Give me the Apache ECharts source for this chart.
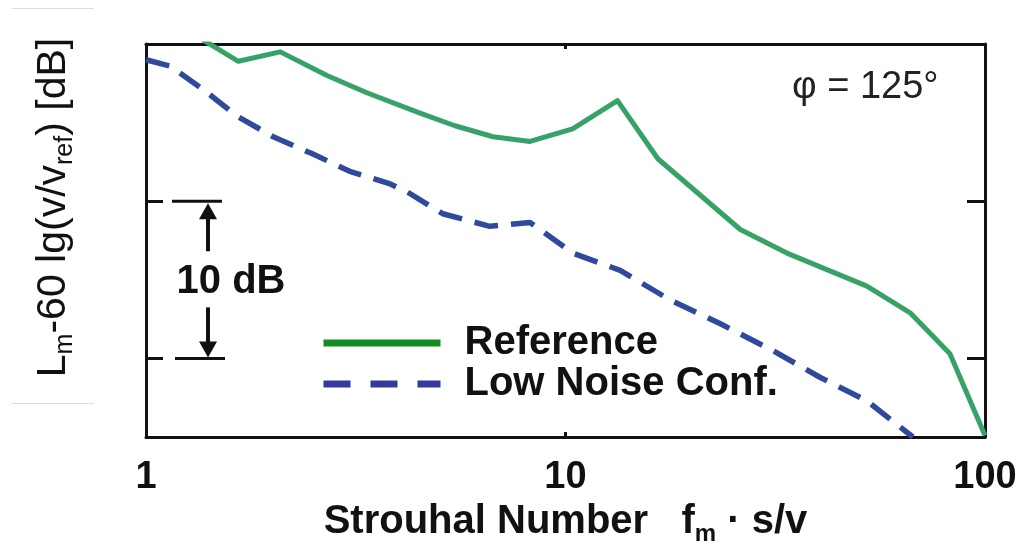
<!DOCTYPE html>
<html>
<head>
<meta charset="utf-8">
<script src="https://cdn.jsdelivr.net/npm/echarts@6/dist/echarts.min.js"></script>
<style>
html,body{margin:0;padding:0;background:#fff;}
#c{width:1023px;height:546px;}
</style>
</head>
<body>
<div id="c"></div>
<script>
// ---- data ----
var freqRef  = [1.36, 1.66, 2.09, 2.70, 3.36, 4.50, 5.45, 6.72, 8.23, 10.4, 13.3, 16.6, 26.1, 33.7, 52.3, 66.3, 82.5, 100];
var levelRef = [20.3, 18.9, 19.5, 18.0, 16.9, 15.6, 14.8, 14.1, 13.8, 14.6, 16.4, 12.7, 8.2, 6.7, 4.6, 2.9, 0.3, -4.9];

var freqLow  = [1.0, 1.14, 1.37, 1.65, 2.01, 2.50, 3.06, 3.82, 4.19, 5.10, 6.60, 8.23, 10.4, 13.5, 17.8, 23.4, 31.2, 40.4, 52.3, 67.3];
var levelLow = [19.0, 18.6, 17.1, 15.4, 14.1, 13.0, 11.9, 11.1, 10.6, 9.2, 8.4, 8.65, 6.7, 5.6, 3.7, 2.2, 0.5, -1.2, -2.7, -5.0];

var seriesNames = ['Reference', 'Low Noise Conf.'];
var yTicks = [0, 10, 20];
var xRange = [1, 100];
var yRange = [-5, 20];

var FONT = "'Liberation Sans', Arial, Helvetica, sans-serif";
var chart = echarts.init(document.getElementById('c'), null, {renderer: 'canvas'});

function pairs(xs, ys) { return xs.map(function (x, i) { return [x, ys[i]]; }); }

var frameLine = {show: true, onZero: false, lineStyle: {color: '#111', width: 3}};

var option = {
  animation: false,
  backgroundColor: '#fff',
  grid: {left: 146, right: 38, top: 44, bottom: 109, containLabel: false, outerBoundsMode: 'none'},
  xAxis: [{
    type: 'log', logBase: 10, min: xRange[0], max: xRange[1], position: 'bottom',
    axisLine: frameLine,
    axisTick: {show: true, inside: true, length: 5, lineStyle: {color: '#111', width: 3}},
    splitLine: {show: false},
    axisLabel: {show: true, margin: 22, fontFamily: FONT, fontSize: 38, fontWeight: 'bold', color: '#111',
      showMinLabel: true, showMaxLabel: true, formatter: function (v) { return String(Math.round(v)); }},
    name: '{b|Strouhal Number   f}{bs|m}{b| \u00b7 s/v}',
    nameLocation: 'middle', nameGap: 60,
    nameTextStyle: {rich: {
      b: {fontFamily: FONT, fontSize: 40, fontWeight: 'bold', color: '#111', lineHeight: 48},
      bs: {fontFamily: FONT, fontSize: 24, fontWeight: 'bold', color: '#111', lineHeight: 28, verticalAlign: 'bottom'}
    }}
  }, {
    type: 'log', logBase: 10, min: xRange[0], max: xRange[1], position: 'top',
    axisLine: frameLine,
    axisTick: {show: true, inside: true, length: 5, lineStyle: {color: '#111', width: 3}},
    splitLine: {show: false}, axisLabel: {show: false}
  }],
  yAxis: [{
    type: 'value', min: yRange[0], max: yRange[1], position: 'left',
    axisLine: frameLine,
    axisTick: {show: true, inside: true, length: 17, customValues: yTicks, lineStyle: {color: '#111', width: 3}},
    splitLine: {show: false}, axisLabel: {show: false},
    name: '{n|L}{s|m}{n|-60 lg(v/v}{s|ref}{n|) [dB]}',
    nameLocation: 'middle', nameGap: 68, nameRotate: 90,
    nameTextStyle: {padding: [0, 0, 0, 66], rich: {
      n: {fontFamily: FONT, fontSize: 41, color: '#111', lineHeight: 48},
      s: {fontFamily: FONT, fontSize: 25, color: '#111', lineHeight: 26, verticalAlign: 'bottom'}
    }}
  }, {
    type: 'value', min: yRange[0], max: yRange[1], position: 'right',
    axisLine: frameLine,
    axisTick: {show: true, inside: true, length: 18, customValues: yTicks, lineStyle: {color: '#111', width: 3}},
    splitLine: {show: false}, axisLabel: {show: false}
  }],
  legend: {
    orient: 'vertical', left: 315, top: 318, itemWidth: 117, itemHeight: 14, itemGap: 1,
    selectedMode: false,
    itemStyle: {opacity: 0},
    textStyle: {fontFamily: FONT, fontSize: 40, fontWeight: 'bold', color: '#111', lineHeight: 40, padding: [0, 0, 0, 19]},
    data: [
      {name: seriesNames[0], lineStyle: {color: '#138d1f', width: 7, type: 'solid'}},
      {name: seriesNames[1], lineStyle: {color: '#35399b', width: 7, type: [27, 20], cap: 'butt'}}
    ]
  },
  series: [{
    name: seriesNames[0], type: 'line', xAxisIndex: 0, yAxisIndex: 0,
    data: pairs(freqRef, levelRef), symbol: 'none', smooth: false,
    lineStyle: {color: '#36a267', width: 5, join: 'round'},
    itemStyle: {color: '#36a267'}
  }, {
    name: seriesNames[1], type: 'line', xAxisIndex: 0, yAxisIndex: 0,
    data: pairs(freqLow, levelLow), symbol: 'none', smooth: false,
    lineStyle: {color: '#2f4a9c', width: 5.5, type: [24, 13], cap: 'butt', join: 'round'},
    itemStyle: {color: '#2f4a9c'}
  }]
};
chart.setOption(option);

// ---- annotations positioned from the axis scale ----
var y10 = chart.convertToPixel({yAxisIndex: 0}, 10);
var y0 = chart.convertToPixel({yAxisIndex: 0}, 0);
var ax = 208;
var blk = {stroke: '#111', lineWidth: 3};
chart.setOption({
  graphic: [
    {type: 'line', shape: {x1: 172, y1: y10, x2: 222, y2: y10}, style: blk},
    {type: 'line', shape: {x1: 175, y1: y0, x2: 225, y2: y0}, style: blk},
    {type: 'line', shape: {x1: ax, y1: y10 + 16, x2: ax, y2: y10 + 50}, style: {stroke: '#111', lineWidth: 4}},
    {type: 'polygon', shape: {points: [[ax, y10 + 2], [ax - 9, y10 + 18], [ax + 9, y10 + 18]]}, style: {fill: '#111'}},
    {type: 'line', shape: {x1: ax, y1: y0 - 16, x2: ax, y2: y0 - 51}, style: {stroke: '#111', lineWidth: 4}},
    {type: 'polygon', shape: {points: [[ax, y0 - 1], [ax - 9, y0 - 17], [ax + 9, y0 - 17]]}, style: {fill: '#111'}},
    {type: 'text', style: {x: 231, y: (y0 + y10) / 2 + 2, text: '10 dB', fill: '#111',
      font: 'bold 40px ' + FONT, textAlign: 'center', textVerticalAlign: 'middle'}},
    {type: 'text', style: {x: 792, y: 88, text: '\u03c6 = 125\u00b0', fill: '#222',
      font: '38px ' + FONT, textAlign: 'left', textVerticalAlign: 'middle'}},
    {type: 'line', shape: {x1: 12, y1: 8.5, x2: 94, y2: 8.5}, style: {stroke: '#dcdcdc', lineWidth: 1}},
    {type: 'line', shape: {x1: 12, y1: 403.5, x2: 94, y2: 403.5}, style: {stroke: '#dcdcdc', lineWidth: 1}}
  ]
});
</script>
</body>
</html>
